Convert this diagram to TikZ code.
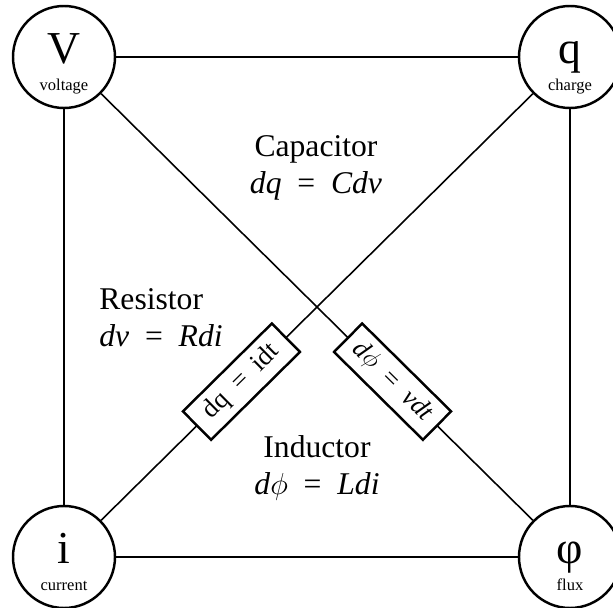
\documentclass[tikz,border=0pt]{standalone}
\usepackage{fontspec}
\setmainfont{Liberation Serif}
\usetikzlibrary{positioning, calc}

\begin{document}
\begin{tikzpicture}[
  %% corner quantities
  qcirc/.style={
    circle, draw=black, line width=1.4pt,
    minimum size=2.04cm, inner sep=0pt, fill=white
  },
  qsym/.style={anchor=base, inner sep=0pt, font=\fontsize{26}{28}\selectfont},
  qname/.style={anchor=base, inner sep=0pt, font=\fontsize{9.4}{10}\selectfont},
  %% element names + relations
  elem/.style={align=center, inner sep=0pt, font=\fontsize{18}{21}\selectfont},
  %% boxes sitting on the diagonals
  ebox/.style={
    rectangle, draw=black, line width=1.4pt, fill=white,
    minimum width=2.5cm, minimum height=0.8cm, inner sep=0pt,
    sloped, font=\fontsize{15}{17}\selectfont
  },
  %% connecting lines
  link/.style={line width=0.9pt}
]

\useasboundingbox (0,0) rectangle (12.26,12.14);

%% ================================================================
%% CORNERS
%% ================================================================
\node[qcirc] (V) at (1.28, 11.0) {};
\node[qsym]  (Vsym) at ($(V.center) + (0,-0.12)$) {V};
\node[qname] (Vname) at ($(V.center) + (0,-0.66)$) {voltage};

\node[qcirc] (q) at (11.40, 11.0) {};
\node[qsym]  (qsym) at ($(q.center) + (0,-0.12)$) {q};
\node[qname] (qname) at ($(q.center) + (0,-0.66)$) {charge};

\node[qcirc] (i) at (1.28, 1.0) {};
\node[qsym]  (isym) at ($(i.center) + (0,-0.12)$) {i};
\node[qname] (iname) at ($(i.center) + (0,-0.66)$) {current};

\node[qcirc] (phi) at (11.40, 1.0) {};
\node[qsym]  (phisym) at ($(phi.center) + (0,-0.12)$) {φ};
\node[qname] (phiname) at ($(phi.center) + (0,-0.66)$) {flux};

%% ================================================================
%% SIDES
%% ================================================================
\draw[link] (V) -- (q);
\draw[link] (V) -- (i);
\draw[link] (q) -- (phi);
\draw[link] (i) -- (phi);

%% ================================================================
%% DIAGONALS (with their boxes)
%% ================================================================
\draw[link] (i) -- node[ebox, pos=0.325] (qbox) {dq\enspace=\enspace idt} (q);
\draw[link] (V) -- node[ebox, pos=0.675] (phibox) {\textit{d}$\phi$\enspace=\enspace\textit{vdt}} (phi);

%% ================================================================
%% ELEMENTS
%% ================================================================
\node[elem] (cap) at (6.32, 8.78) {Capacitor\\\textit{dq}\enspace=\enspace\textit{Cdv}};
\node[elem, align=left] (res) at (3.22, 5.78) {Resistor\\\textit{dv}\enspace=\enspace\textit{Rdi}};
\node[elem] (ind) at (6.34, 2.78) {Inductor\\\textit{d}$\phi$\enspace=\enspace\textit{Ldi}};

\end{tikzpicture}
\end{document}
